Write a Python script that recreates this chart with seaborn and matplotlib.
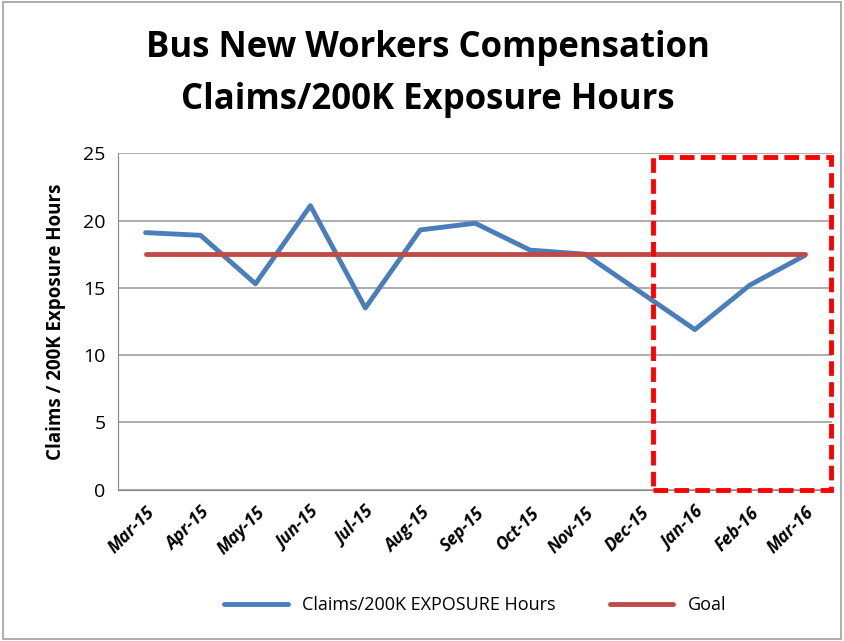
import pandas as pd
import numpy as np
import matplotlib
matplotlib.use("Agg")
import matplotlib.pyplot as plt
import seaborn as sns
from matplotlib.patches import Rectangle

months = ["Mar-15", "Apr-15", "May-15", "Jun-15", "Jul-15", "Aug-15", "Sep-15",
          "Oct-15", "Nov-15", "Dec-15", "Jan-16", "Feb-16", "Mar-16"]
claims = [19.1, 18.9, 15.3, 21.1, 13.5, 19.3, 19.8, 17.8, 17.5, 14.7, 11.9, 15.2, 17.4]
goal = [17.5] * len(months)

sns.set_style("white")
plt.rcParams['font.family'] = ['Open Sans', 'DejaVu Sans']
plt.rcParams['text.color'] = 'black'
plt.rcParams['axes.labelcolor'] = 'black'
plt.rcParams['xtick.labelcolor'] = 'black'
plt.rcParams['ytick.labelcolor'] = 'black'

df = pd.DataFrame({"Month": months, "Claims/200K EXPOSURE Hours": claims, "Goal": goal})
long = df.melt(id_vars="Month", var_name="Series", value_name="Value")

fig = plt.figure(figsize=(8.44, 6.41), dpi=100)
ax = fig.add_axes([0.14, 0.236, 0.846, 0.525])

sns.lineplot(data=long, x="Month", y="Value", hue="Series", sort=False,
             palette=["#4a7ebb", "#be4b48"], linewidth=3.5, ax=ax, legend=True)

ax.set_xlim(-0.5, len(months) - 0.5)
ax.set_ylim(0, 25)
ax.set_yticks([0, 5, 10, 15, 20, 25])
ax.yaxis.grid(True, color="#a0a0a0", linewidth=1.2)
ax.set_axisbelow(True)
for s in ["top", "right"]:
    ax.spines[s].set_visible(False)
ax.spines["left"].set_color("#868686")
ax.spines["bottom"].set_color("#868686")

ax.set_xticks(np.arange(len(months)))
ax.set_xticklabels(months, rotation=45, ha="right", rotation_mode="anchor",
                   fontsize=12.5, fontweight="bold", fontstyle="italic")
ax.set_xticks(np.arange(len(months) + 1) - 0.5, minor=True)
ax.tick_params(axis="x", which="major", length=0, pad=10)
ax.tick_params(axis="x", which="minor", length=5, color="#868686")
ax.tick_params(axis="y", length=5, color="#868686", labelsize=14, pad=4)
ax.set_xlabel("")
ax.set_ylabel("Claims / 200K Exposure Hours", fontsize=13.5, fontweight="bold", labelpad=12)

# highlight box around recent months
ax.add_patch(Rectangle((9.23, 0), 3.25, 24.7, fill=False, edgecolor="#ff0000",
                       linewidth=3.5, linestyle=(0, (3, 1.3)), clip_on=False, zorder=5))

fig.text(0.507, 0.925, "Bus New Workers Compensation", ha="center", va="center",
         fontsize=25, fontweight="bold")
fig.text(0.507, 0.844, "Claims/200K Exposure Hours", ha="center", va="center",
         fontsize=25, fontweight="bold")

ax.legend(title=None, loc="center", bbox_to_anchor=(0.5, -0.343), ncol=2,
          frameon=False, fontsize=13, handlelength=3.5, columnspacing=3)

fig.patches.append(Rectangle((0.003, 0.003), 0.994, 0.994, transform=fig.transFigure,
                             fill=False, edgecolor="#a0a0a0", linewidth=1.2))

fig.savefig("out.png", dpi=100)
